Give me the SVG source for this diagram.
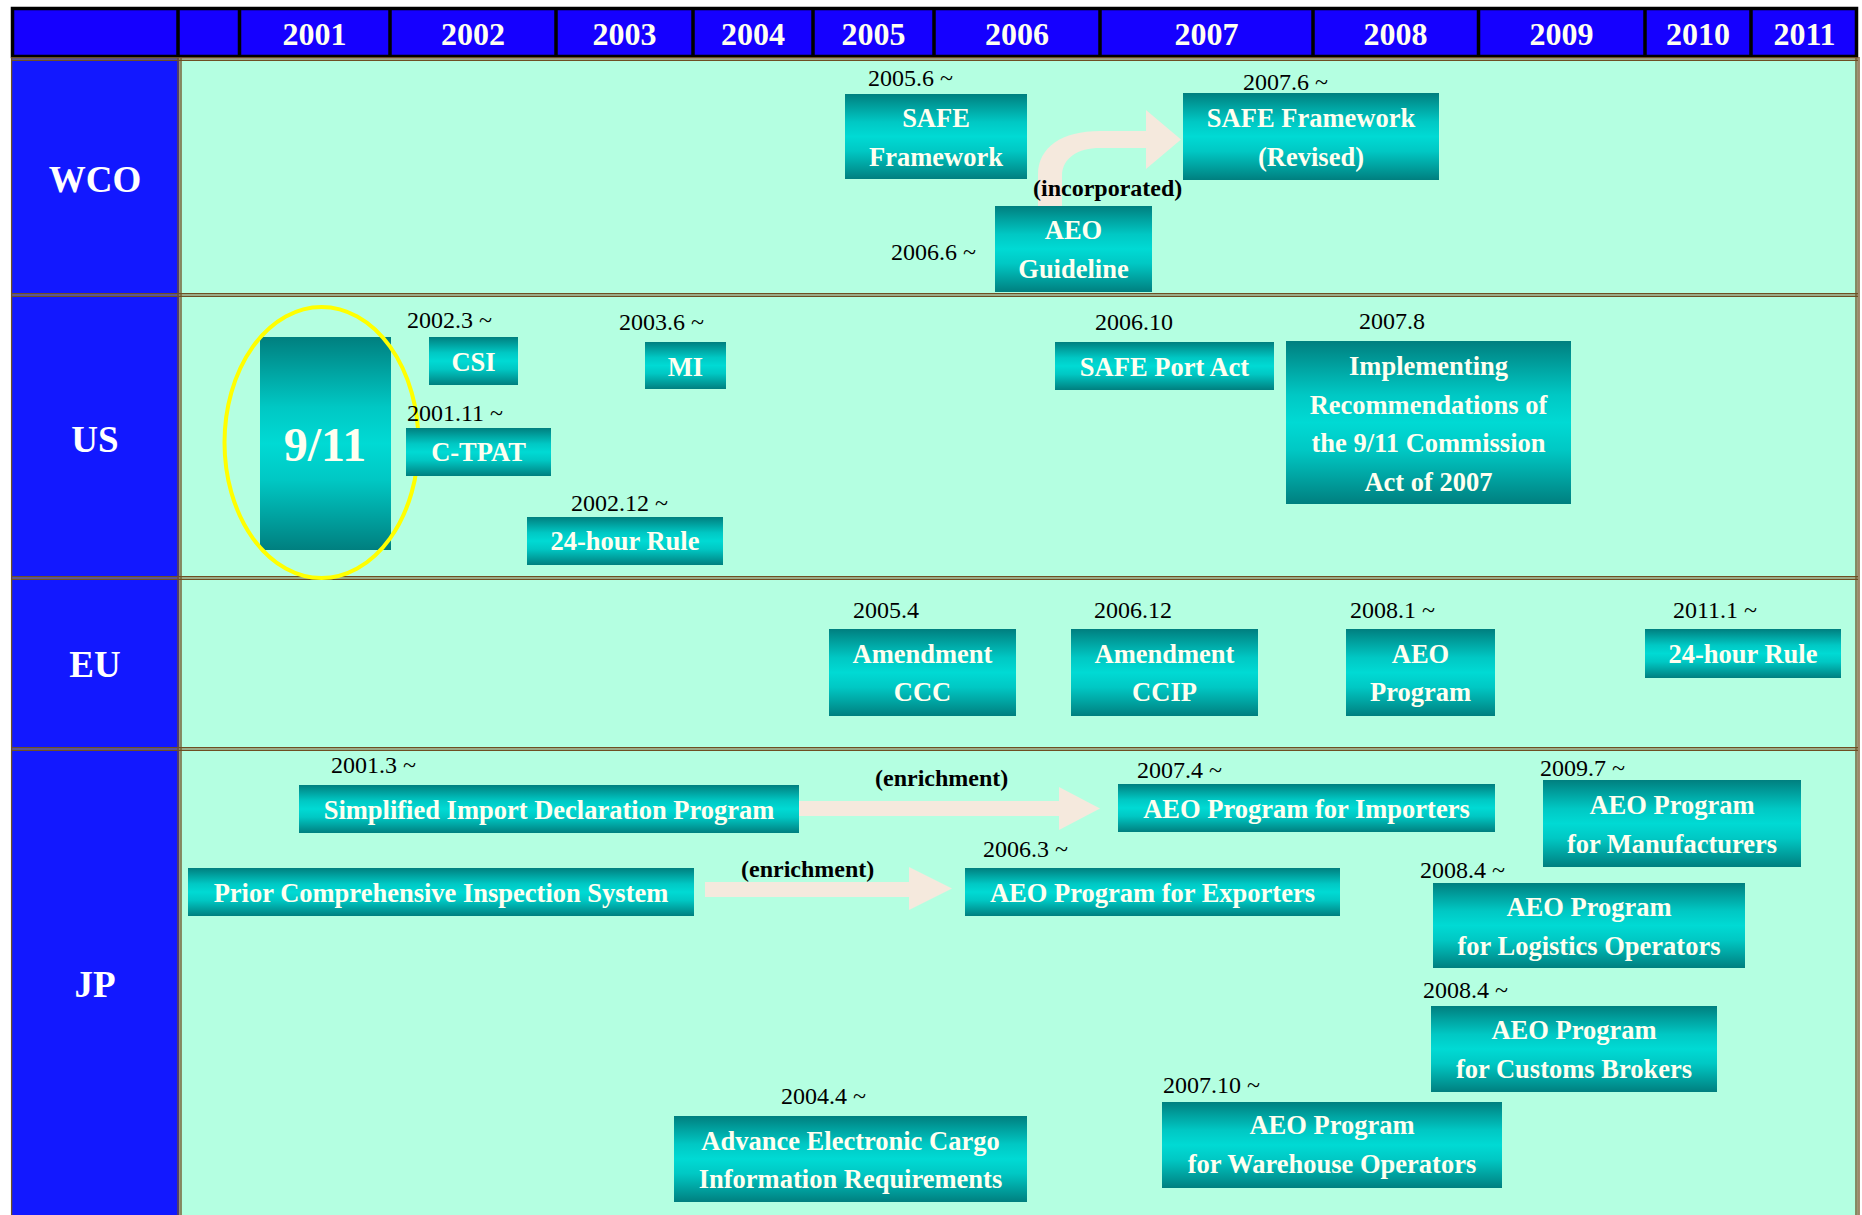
<svg xmlns="http://www.w3.org/2000/svg" width="1862" height="1215" viewBox="0 0 1862 1215">
<defs>
<linearGradient id="g" x1="0" y1="0" x2="0" y2="1">
<stop offset="0" stop-color="#007F7F"/>
<stop offset="0.33" stop-color="#00C8C4"/>
<stop offset="0.5" stop-color="#00DAD4"/>
<stop offset="0.67" stop-color="#00C8C4"/>
<stop offset="1" stop-color="#007F7F"/>
</linearGradient>
<style>
.box{fill:url(#g);}
.bt{font-family:"Liberation Serif","Times New Roman",serif;font-weight:bold;font-size:26.5px;fill:#FFFFF0;text-anchor:middle;}
.dt{font-family:"Liberation Serif","Times New Roman",serif;font-size:24px;fill:#000;}
.yr{font-family:"Liberation Serif","Times New Roman",serif;font-weight:bold;font-size:32px;fill:#FFFFF0;text-anchor:middle;}
.rl{font-family:"Liberation Serif","Times New Roman",serif;font-weight:bold;font-size:37px;fill:#FFFFFF;text-anchor:middle;}
.lbl{font-family:"Liberation Serif","Times New Roman",serif;font-weight:bold;font-size:24px;fill:#000;}
.arr{fill:#F5E9DD;}
.bd{stroke:#6E4F23;stroke-width:1.3;fill:none;}
.bm{stroke:#9C9575;stroke-width:1.2;fill:none;}
.hd{stroke:#000;stroke-width:3.5;fill:none;}
</style>
</defs>
<rect x="0" y="0" width="1862" height="1215" fill="#FFFFFF"/>

<g id="grid">
<rect x="11" y="57" width="168" height="1158" fill="#1218FF"/>
<rect x="179" y="59" width="1678" height="1156" fill="#B4FFE1"/>
<rect x="12.5" y="8.5" width="1844" height="48" fill="#1500FF" stroke="#000" stroke-width="3.5"/>
<path class="hd" d="M178 8V57M239.5 8V57M390 8V57M556 8V57M693 8V57M813 8V57M934 8V57M1100 8V57M1313 8V57M1478.5 8V57M1645 8V57M1751 8V57"/>
<text class="yr" x="314.5" y="45">2001</text>
<text class="yr" x="473" y="45">2002</text>
<text class="yr" x="624.5" y="45">2003</text>
<text class="yr" x="753" y="45">2004</text>
<text class="yr" x="873.5" y="45">2005</text>
<text class="yr" x="1017" y="45">2006</text>
<text class="yr" x="1206.5" y="45">2007</text>
<text class="yr" x="1395.5" y="45">2008</text>
<text class="yr" x="1561.5" y="45">2009</text>
<text class="yr" x="1698" y="45">2010</text>
<text class="yr" x="1804.5" y="45">2011</text>
<path class="bm" d="M11 59H1858M11 295H1858M11 578H1858M11 749H1858M179.5 57V1215M1857.5 57V1215"/>
<path class="bd" d="M11 57.6H1858M11 60.4H1858M11 293.6H1858M11 296.4H1858M11 576.6H1858M11 579.4H1858M11 747.6H1858M11 750.4H1858M178 57V1215M181 57V1215M1856 57V1215M1859 57V1215M11.6 57V1215"/>
<text class="rl" x="95" y="192">WCO</text>
<text class="rl" x="95" y="452">US</text>
<text class="rl" x="95" y="677">EU</text>
<text class="rl" x="95" y="997">JP</text>
</g>

<g id="connectors">
<path class="arr" d="M1038,207 L1038,175 C1038,147 1062,131 1100,131 L1146,131 L1146,110 L1181,139.5 L1146,169 L1146,148 L1100,148 C1078,148 1062,158 1062,176 L1062,207 Z"/>
<text class="lbl" x="1033" y="196">(incorporated)</text>
<path class="arr" d="M799,801 L1059,801 L1059,787 L1100,808.5 L1059,830 L1059,816 L799,816 Z"/>
<text class="lbl" x="875" y="786">(enrichment)</text>
<path class="arr" d="M705,882 L909,882 L909,867 L952,888.5 L909,910 L909,897 L705,897 Z"/>
<text class="lbl" x="741" y="877">(enrichment)</text>
</g>

<g id="wco-safe">
<text class="dt" x="868" y="86">2005.6 ~</text>
<rect class="box" x="845" y="94" width="182" height="85"/>
<text class="bt" x="936" y="127">SAFE</text>
<text class="bt" x="936" y="166">Framework</text>
</g>
<g id="wco-safe-revised">
<text class="dt" x="1243" y="90">2007.6 ~</text>
<rect class="box" x="1183" y="93" width="256" height="87"/>
<text class="bt" x="1311" y="127">SAFE Framework</text>
<text class="bt" x="1311" y="166">(Revised)</text>
</g>
<g id="wco-aeo-guideline">
<text class="dt" x="891" y="260">2006.6 ~</text>
<rect class="box" x="995" y="206" width="157" height="86"/>
<text class="bt" x="1073.5" y="239">AEO</text>
<text class="bt" x="1073.5" y="278">Guideline</text>
</g>

<g id="us-911">
<rect class="box" x="260" y="337" width="131" height="213"/>
<text class="bt" x="325" y="461" style="font-size:48px">9/11</text>
<ellipse cx="321.5" cy="442.5" rx="97" ry="135.5" fill="none" stroke="#FFFF00" stroke-width="4"/>
</g>
<g id="us-csi">
<text class="dt" x="407" y="328">2002.3 ~</text>
<rect class="box" x="429" y="337" width="89" height="48"/>
<text class="bt" x="473.5" y="371">CSI</text>
</g>
<g id="us-mi">
<text class="dt" x="619" y="330">2003.6 ~</text>
<rect class="box" x="645" y="342" width="81" height="47"/>
<text class="bt" x="685.5" y="376">MI</text>
</g>
<g id="us-ctpat">
<text class="dt" x="407" y="421">2001.11 ~</text>
<rect class="box" x="406" y="428" width="145" height="48"/>
<text class="bt" x="478.5" y="461">C-TPAT</text>
</g>
<g id="us-24h">
<text class="dt" x="571" y="511">2002.12 ~</text>
<rect class="box" x="527" y="517" width="196" height="48"/>
<text class="bt" x="625" y="550">24-hour Rule</text>
</g>
<g id="us-safe-port">
<text class="dt" x="1095" y="330">2006.10</text>
<rect class="box" x="1055" y="342" width="219" height="48"/>
<text class="bt" x="1164.5" y="376">SAFE Port Act</text>
</g>
<g id="us-implementing">
<text class="dt" x="1359" y="329">2007.8</text>
<rect class="box" x="1286" y="341" width="285" height="163"/>
<text class="bt" x="1428.5" y="375">Implementing</text>
<text class="bt" x="1428.5" y="413.5">Recommendations of</text>
<text class="bt" x="1428.5" y="452">the 9/11 Commission</text>
<text class="bt" x="1428.5" y="490.5">Act of 2007</text>
</g>

<g id="eu-ccc">
<text class="dt" x="853" y="618">2005.4</text>
<rect class="box" x="829" y="629" width="187" height="87"/>
<text class="bt" x="922.5" y="663">Amendment</text>
<text class="bt" x="922.5" y="701">CCC</text>
</g>
<g id="eu-ccip">
<text class="dt" x="1094" y="618">2006.12</text>
<rect class="box" x="1071" y="629" width="187" height="87"/>
<text class="bt" x="1164.5" y="663">Amendment</text>
<text class="bt" x="1164.5" y="701">CCIP</text>
</g>
<g id="eu-aeo">
<text class="dt" x="1350" y="618">2008.1 ~</text>
<rect class="box" x="1346" y="629" width="149" height="87"/>
<text class="bt" x="1420.5" y="663">AEO</text>
<text class="bt" x="1420.5" y="701">Program</text>
</g>
<g id="eu-24h">
<text class="dt" x="1673" y="618">2011.1 ~</text>
<rect class="box" x="1645" y="629" width="196" height="49"/>
<text class="bt" x="1743" y="663">24-hour Rule</text>
</g>

<g id="jp-simplified">
<text class="dt" x="331" y="773">2001.3 ~</text>
<rect class="box" x="299" y="785" width="500" height="48"/>
<text class="bt" x="549" y="819">Simplified Import Declaration Program</text>
</g>
<g id="jp-importers">
<text class="dt" x="1137" y="778">2007.4 ~</text>
<rect class="box" x="1118" y="784" width="377" height="48"/>
<text class="bt" x="1306.5" y="818">AEO Program for Importers</text>
</g>
<g id="jp-manufacturers">
<text class="dt" x="1540" y="776">2009.7 ~</text>
<rect class="box" x="1543" y="780" width="258" height="87"/>
<text class="bt" x="1672" y="814">AEO Program</text>
<text class="bt" x="1672" y="853">for Manufacturers</text>
</g>
<g id="jp-prior">
<rect class="box" x="188" y="868" width="506" height="48"/>
<text class="bt" x="441" y="902">Prior Comprehensive Inspection System</text>
</g>
<g id="jp-exporters">
<text class="dt" x="983" y="857">2006.3 ~</text>
<rect class="box" x="965" y="868" width="375" height="48"/>
<text class="bt" x="1152.5" y="902">AEO Program for Exporters</text>
</g>
<g id="jp-logistics">
<text class="dt" x="1420" y="878">2008.4 ~</text>
<rect class="box" x="1433" y="883" width="312" height="85"/>
<text class="bt" x="1589" y="916">AEO Program</text>
<text class="bt" x="1589" y="955">for Logistics Operators</text>
</g>
<g id="jp-brokers">
<text class="dt" x="1423" y="998">2008.4 ~</text>
<rect class="box" x="1431" y="1006" width="286" height="86"/>
<text class="bt" x="1574" y="1039">AEO Program</text>
<text class="bt" x="1574" y="1078">for Customs Brokers</text>
</g>
<g id="jp-warehouse">
<text class="dt" x="1163" y="1093">2007.10 ~</text>
<rect class="box" x="1162" y="1102" width="340" height="86"/>
<text class="bt" x="1332" y="1134">AEO Program</text>
<text class="bt" x="1332" y="1173">for Warehouse Operators</text>
</g>
<g id="jp-advance">
<text class="dt" x="781" y="1104">2004.4 ~</text>
<rect class="box" x="674" y="1116" width="353" height="86"/>
<text class="bt" x="850.5" y="1150">Advance Electronic Cargo</text>
<text class="bt" x="850.5" y="1188">Information Requirements</text>
</g>
</svg>
